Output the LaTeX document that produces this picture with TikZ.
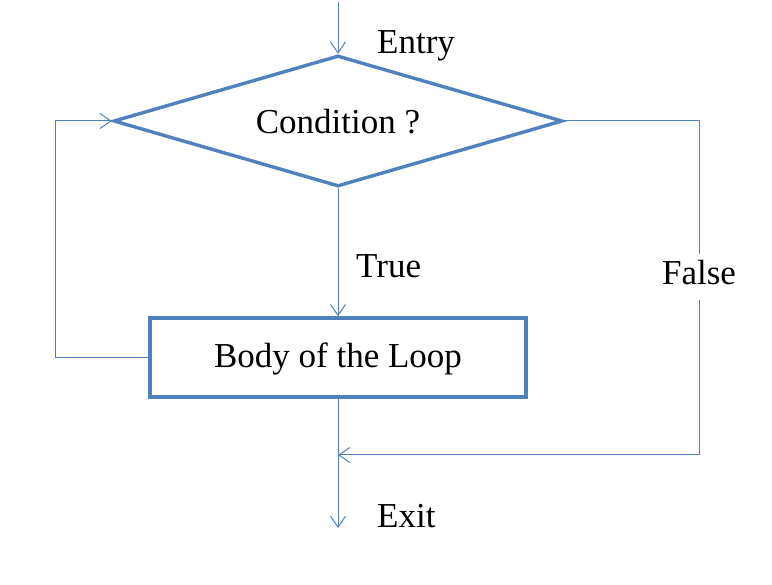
\documentclass[tikz,border=0pt]{standalone}
\usepackage{fontspec}
\setmainfont{Liberation Serif}
\usetikzlibrary{shapes.geometric,arrows.meta}
\definecolor{flowblue}{HTML}{4F81BD}
\begin{document}
\begin{tikzpicture}[x=1pt,y=-1pt,
  conn/.style={draw=flowblue,line width=1pt},
  arr/.style={conn,-{Straight Barb[length=11pt,width=15pt,line width=1pt]}},
  shapeline/.style={draw=flowblue,line width=3.4pt,fill=white,font=\fontsize{35}{40}\selectfont},
  lbl/.style={font=\fontsize{35}{40}\selectfont,inner sep=0pt}]
\useasboundingbox (0,0) rectangle (772,585);
\node[shapeline,shape=diamond,aspect=3.43,minimum width=449pt,minimum height=131pt,inner sep=0pt,text height=26pt,text depth=0pt] (cond) at (338,121) {Condition ?};
\node[shapeline,rectangle,minimum width=376pt,minimum height=79pt,inner sep=0pt,text height=24pt,text depth=3pt] (body) at (338,357.5) {Body of the Loop};
\coordinate (start) at (338,2);
\coordinate (merge) at (338,455);
\coordinate (exit) at (338,528);
\node[lbl,anchor=base west] (entry) at (377,54) {Entry};
\node[lbl,anchor=base west] (true) at (356,278) {True};
\node[lbl,anchor=base west] (exitl) at (377,527) {Exit};
\node[font=\fontsize{35}{40}\selectfont,inner xsep=0pt,inner ysep=8pt,text height=23pt,text depth=7pt] (false) at (699,277) {False};
\draw[arr] (start) -- (cond.north);
\draw[arr] (cond.south) -- (body.north);
\draw[arr] (body.west) -- ++(-93,0) |- (cond.west);
\draw[conn] (cond.east) -| (false.north);
\draw[arr] (false.south) |- (merge);
\draw[arr] (body.south) -- (exit);
\end{tikzpicture}
\end{document}
